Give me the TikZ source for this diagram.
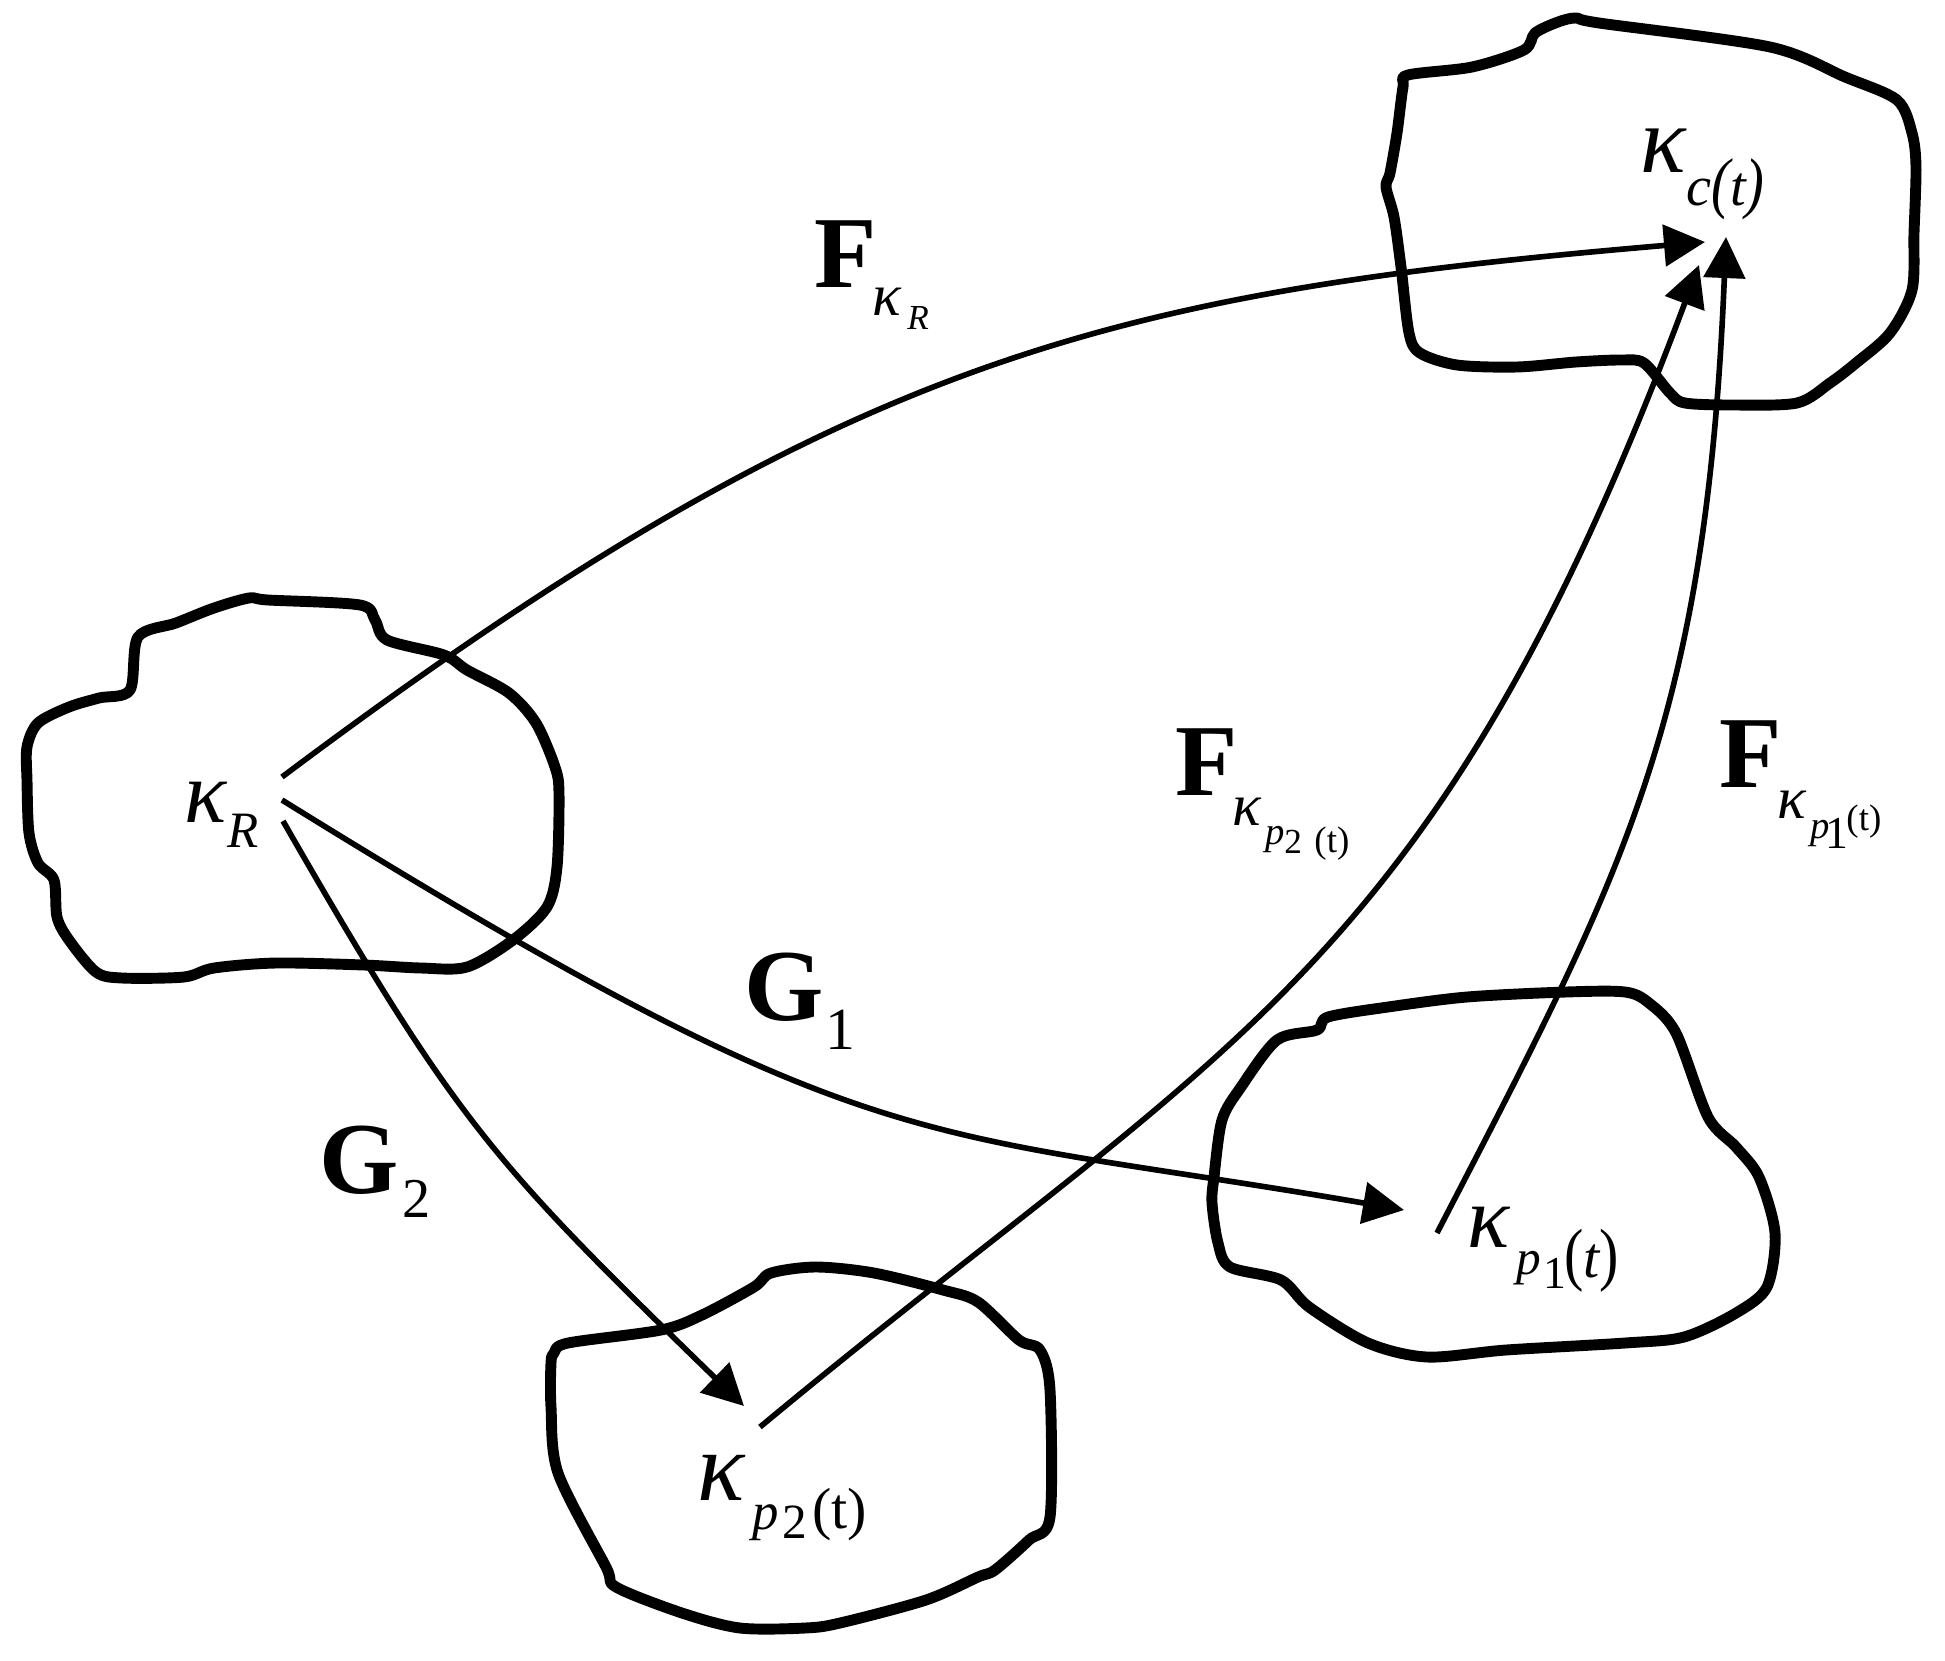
\documentclass[tikz,border=0pt]{standalone}
\usepackage{graphicx}
\usepackage{fontspec}
\setmainfont{Liberation Serif}
\usetikzlibrary{arrows.meta}
\newdimen\pxu \pxu=0.01cm
\newcommand\pc[3]{\rlap{\kern#1\pxu\raisebox{-#2\pxu}{#3}}}
\newcommand\fsz[1]{\fontsize{#1}{#1}\selectfont}
\newcommand\tallp[1]{\scalebox{1}[1.2]{#1}}
\begin{document}
\begin{tikzpicture}[x=0.01cm,y=-0.01cm,
  blob/.style={line width=3.1pt, line join=round},
  conn/.style={line width=1.6pt, -{Triangle[length=0.41cm,width=0.41cm]}},
  lbl/.style={inner sep=0pt, anchor=base west}]
\useasboundingbox (0,0) rectangle (1945,1660);
% blobs
\draw[blob] plot[smooth cycle, tension=0.5] coordinates {(130,690) (138,637) (176,623) (214,608) (249,598) (268,600) (360,605) (375,620) (387,640) (444,655) (467,670) (509,693) (536,723) (555,767) (559,793) (557,867) (547,907) (513,940) (467,967) (421,968) (364,965) (276,963) (214,968) (184,977) (122,978) (96,972) (69,940) (57,917) (54,880) (38,863) (29,833) (27,780) (27,747) (38,723) (69,707) (99,698)};
\draw[blob] plot[smooth cycle, tension=0.5] coordinates {(1408,75) (1472,67) (1524,50) (1535,33) (1558,22) (1576,18) (1599,23) (1770,47) (1845,77) (1897,100) (1912,133) (1916,167) (1914,233) (1912,290) (1890,333) (1856,363) (1830,383) (1797,403) (1733,405) (1685,403) (1670,393) (1644,363) (1621,360) (1576,362) (1517,367) (1457,365) (1420,353) (1409,333) (1401,267) (1394,217) (1386,187) (1390,173) (1397,133) (1403,87)};
\draw[blob] plot[smooth cycle, tension=0.5] coordinates {(554,1353) (568,1343) (661,1330) (702,1315) (754,1287) (771,1273) (816,1267) (874,1273) (943,1290) (978,1302) (1019,1340) (1040,1350) (1050,1390) (1050,1517) (1029,1540) (995,1570) (978,1577) (926,1600) (840,1623) (805,1628) (740,1628) (682,1613) (616,1587) (606,1567) (558,1473) (551,1407) (551,1363)};
\draw[blob] plot[smooth cycle, tension=0.5] coordinates {(1214,1177) (1222,1120) (1241,1087) (1277,1040) (1317,1030) (1328,1017) (1388,1007) (1467,997) (1566,992) (1625,992) (1649,1003) (1676,1033) (1708,1117) (1736,1147) (1759,1177) (1775,1233) (1767,1287) (1736,1313) (1684,1337) (1625,1343) (1506,1350) (1427,1357) (1368,1343) (1309,1307) (1281,1280) (1230,1267) (1218,1243) (1212,1203)};
% labels
\node[lbl] (kR) at (182,822) {\pc{0}{0}{\fsz{25}\itshape κ}\pc{43}{25}{\fsz{14.5}\itshape R}};
\node[lbl] (kc) at (1638,172) {\pc{0}{0}{\fsz{27}\itshape κ}\pc{46}{33}{\fsz{16}\itshape c\tallp{(}t\tallp{)}}};
\node[lbl] (kp2) at (695,1500) {\pc{0}{0}{\fsz{28}\itshape κ}\pc{55}{29}{\fsz{15}\itshape p}\pc{85}{38}{\fsz{14}2}\pc{115}{28}{\fsz{16.5}(t)}};
\node[lbl] (kp1) at (1465,1247) {\pc{0}{0}{\fsz{25}\itshape κ}\pc{49}{27}{\fsz{14}\itshape p}\pc{76}{41}{\fsz{13}1}\pc{97}{30}{\fsz{16.5}\tallp{(}{\itshape t}\tallp{)}}};
\node[lbl] (FR) at (812,287) {\pc{0}{0}{\fsz{29}\bfseries F}\pc{58}{28}{\fsz{17}\itshape κ}\pc{93}{42}{\fsz{10}\itshape R}};
\node[lbl] (Fp2) at (1173,795) {\pc{0}{0}{\fsz{29}\bfseries F}\pc{57}{30}{\fsz{17}\itshape κ}\pc{90}{49}{\fsz{11}\itshape p}\pc{109}{58}{\fsz{10}2}\pc{139}{57}{\fsz{10.5}(t)}};
\node[lbl] (Fp1) at (1717,787) {\pc{0}{0}{\fsz{29}\bfseries F}\pc{58}{31}{\fsz{17}\itshape κ}\pc{91}{51}{\fsz{11}\itshape p}\pc{106}{61}{\fsz{13}1}\pc{127}{43}{\fsz{10.5}(t)}};
\node[lbl] (G1) at (742,1020) {\pc{0}{0}{\fsz{29}\bfseries G}\pc{81}{29}{\fsz{17}1}};
\node[lbl] (G2) at (317,1193) {\pc{0}{0}{\fsz{29}\bfseries G}\pc{83}{24}{\fsz{16}2}};
% connector end points
\coordinate (sR1) at (282,777);
\coordinate (sR2) at (282,800);
\coordinate (sR3) at (283,821);
\coordinate (tc1) at (1705,242);
\coordinate (tc2) at (1699,265);
\coordinate (tc3) at (1726,237);
\coordinate (tp1) at (1404,1210);
\coordinate (tp2) at (744,1406);
\coordinate (sp2) at (760,1427);
\coordinate (sp1) at (1437,1233);
% connectors
\draw[conn] (sR1) .. controls (842,357) and (1107,293) .. (tc1);
\draw[conn] (sR2) .. controls (877,1169) and (912,1125) .. (tp1);
\draw[conn] (sR3) .. controls (457,1124) and (492,1161) .. (tp2);
\draw[conn] (sp2) .. controls (1223,1042) and (1432,979) .. (tc2);
\draw[conn] (sp1) .. controls (1621,877) and (1706,727) .. (tc3);
\end{tikzpicture}
\end{document}
